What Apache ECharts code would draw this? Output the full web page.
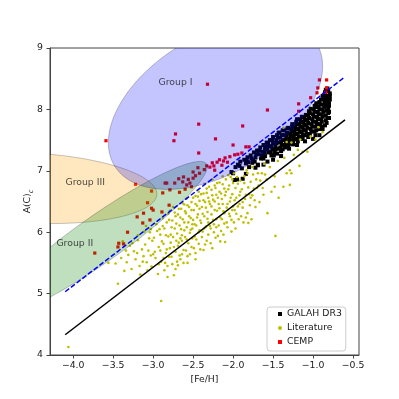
<!DOCTYPE html>
<html>
<head>
<meta charset="utf-8">
<script src="https://cdn.jsdelivr.net/npm/echarts@6/dist/echarts.min.js"></script>
<style>
  html, body { margin: 0; padding: 0; background: #fff; }
  #chart { width: 399px; height: 399px; }
</style>
</head>
<body>
<div id="chart"></div>
<script>
/* ---------------------------- data ---------------------------- */

const xTicks = [-4.0, -3.5, -3.0, -2.5, -2.0, -1.5, -1.0, -0.5];
const yTicks = [4, 5, 6, 7, 8, 9];

// GALAH DR3 stars [Fe/H, A(C)c]
const galah = [
  [-2.02, 6.98], [-1.98, 6.85], [-1.97, 7.06], [-1.94, 7.10], [-1.91, 7.15], [-1.88, 6.87], [-1.89, 7.04],
  [-1.86, 7.18], [-1.84, 7.12], [-1.82, 7.22], [-1.80, 7.06], [-1.78, 7.25], [-1.76, 7.13], [-1.75, 7.18],
  [-1.74, 7.30], [-1.72, 7.22], [-1.70, 7.33], [-1.69, 7.10], [-1.68, 7.27], [-1.66, 7.38], [-1.65, 7.20],
  [-1.63, 7.31], [-1.62, 7.42], [-1.60, 7.24], [-1.60, 7.36], [-1.58, 7.46], [-1.57, 7.15], [-1.56, 7.30],
  [-1.55, 7.40], [-1.54, 7.50], [-1.52, 7.25], [-1.51, 7.35], [-1.50, 7.45], [-1.50, 7.55], [-1.48, 7.30],
  [-1.47, 7.40], [-1.46, 7.50], [-1.45, 7.58], [-1.44, 7.36], [-1.43, 7.46], [-1.42, 7.62], [-1.41, 7.54],
  [-1.40, 7.32], [-1.39, 7.42], [-1.38, 7.50], [-1.37, 7.58], [-1.36, 7.66], [-1.35, 7.38], [-1.34, 7.46],
  [-1.33, 7.54], [-1.32, 7.62], [-1.31, 7.70], [-1.30, 7.44], [-1.29, 7.52], [-1.28, 7.60], [-1.27, 7.68],
  [-1.26, 7.76], [-1.25, 7.48], [-1.24, 7.56], [-1.23, 7.64], [-1.22, 7.72], [-1.21, 7.80], [-1.20, 7.52],
  [-1.19, 7.60], [-1.18, 7.68], [-1.17, 7.76], [-1.16, 7.84], [-1.15, 7.55], [-1.14, 7.63], [-1.13, 7.71],
  [-1.12, 7.79], [-1.11, 7.87], [-1.10, 7.58], [-1.09, 7.66], [-1.08, 7.74], [-1.07, 7.82], [-1.06, 7.90],
  [-1.05, 7.97], [-1.04, 7.60], [-1.03, 7.68], [-1.02, 7.76], [-1.01, 7.84], [-1.00, 7.92], [-0.99, 8.00],
  [-0.98, 8.06], [-0.98, 7.64], [-0.97, 7.72], [-0.96, 7.80], [-0.95, 7.88], [-0.94, 7.96], [-0.93, 8.04],
  [-0.92, 8.12], [-0.92, 7.68], [-0.91, 7.76], [-0.90, 7.84], [-0.89, 7.92], [-0.88, 8.00], [-0.87, 8.08],
  [-0.86, 8.16], [-0.86, 8.24], [-0.85, 7.74], [-0.84, 7.82], [-0.84, 7.90], [-0.83, 7.98], [-0.83, 8.06],
  [-0.82, 8.14], [-0.82, 8.22], [-0.81, 8.30], [-0.80, 7.86], [-0.80, 7.96], [-0.80, 8.06], [-0.79, 8.16],
  [-0.79, 8.26], [-0.84, 8.32], [-0.88, 8.22],
  [-1.95, 6.86], [-1.84, 6.95], [-1.72, 7.05], [-1.62, 7.10], [-1.50, 7.18], [-1.40, 7.24], [-1.30, 7.36],
  [-1.20, 7.42], [-1.10, 7.48], [-1.00, 7.52], [-0.92, 7.58], [-1.69, 7.09], [-1.81, 7.14], [-2.00, 6.96],
  [-1.47, 7.35], [-1.46, 7.45], [-1.44, 7.54], [-1.43, 7.62], [-1.41, 7.38], [-1.40, 7.47], [-1.39, 7.58],
  [-1.38, 7.66], [-1.35, 7.42], [-1.34, 7.51], [-1.33, 7.60], [-1.32, 7.69], [-1.29, 7.47], [-1.28, 7.56],
  [-1.27, 7.64], [-1.26, 7.72], [-1.24, 7.51], [-1.23, 7.60], [-1.22, 7.68], [-1.21, 7.76], [-1.20, 7.84],
  [-1.18, 7.55], [-1.17, 7.64], [-1.16, 7.72], [-1.15, 7.80], [-1.14, 7.88], [-1.13, 7.58], [-1.12, 7.67],
  [-1.11, 7.75], [-1.10, 7.83], [-1.09, 7.91], [-1.08, 7.60], [-1.07, 7.70], [-1.06, 7.78], [-1.05, 7.86],
  [-1.04, 7.94], [-1.03, 8.01], [-1.02, 7.64], [-1.01, 7.72], [-1.00, 7.80], [-0.99, 7.88], [-0.98, 7.96],
  [-0.97, 8.04], [-0.96, 8.10], [-0.96, 7.66], [-0.95, 7.76], [-0.94, 7.84], [-0.93, 7.92], [-0.92, 8.00],
  [-0.91, 8.08], [-0.90, 8.16], [-0.90, 7.72], [-0.89, 7.80], [-0.88, 7.88], [-0.87, 7.96], [-0.86, 8.04],
  [-0.85, 8.12], [-0.84, 8.20], [-0.85, 8.28], [-0.83, 7.78], [-0.82, 7.86], [-0.81, 7.94], [-0.81, 8.02],
  [-0.80, 8.10], [-0.80, 8.18], [-0.79, 8.22], [-0.82, 8.34], [-1.62, 7.20], [-1.61, 7.30], [-1.59, 7.40],
  [-1.56, 7.45], [-1.57, 7.35], [-1.53, 7.30], [-1.52, 7.40], [-1.51, 7.50], [-1.49, 7.25], [-1.67, 7.33],
  [-1.71, 7.27], [-1.77, 7.20], [-1.83, 7.17], [-1.73, 7.15], [-1.64, 7.25], [-1.92, 7.08], [-1.45, 7.28],
  [-1.38, 7.35], [-1.31, 7.40], [-1.25, 7.43], [-1.19, 7.48], [-1.13, 7.52], [-1.06, 7.55], [-0.97, 7.58],
  [-0.88, 7.68]
];

// literature stars
const literature = [
  [-4.06, 4.13],
  [-3.56, 5.50], [-3.44, 5.16], [-3.47, 5.49],
  [-3.36, 5.37], [-3.33, 5.51], [-3.31, 5.63], [-3.38, 5.85],
  [-3.27, 5.40], [-3.22, 5.56], [-3.24, 5.69], [-3.19, 5.95], [-3.29, 5.78],
  [-3.17, 5.45], [-3.12, 5.61], [-3.19, 5.87], [-3.14, 5.72], [-3.11, 6.01], [-3.16, 5.31],
  [-3.02, 5.44], [-3.08, 5.51], [-3.06, 5.70], [-3.01, 5.86], [-3.04, 6.00], [-3.09, 6.10], [-3.03, 5.62],
  [-2.97, 5.58], [-2.93, 5.76], [-2.99, 5.91], [-2.92, 6.05], [-2.96, 6.13], [-2.94, 5.32], [-2.91, 5.96], [-2.90, 4.88],
  [-2.82, 5.27], [-2.84, 5.66], [-2.87, 5.81], [-2.81, 5.93], [-2.86, 6.06], [-2.83, 6.16], [-2.88, 6.23], [-2.85, 5.50], [-2.81, 6.30],
  [-2.72, 5.40], [-2.77, 5.60], [-2.74, 5.76], [-2.71, 5.86], [-2.78, 5.96], [-2.73, 6.06], [-2.76, 6.19], [-2.72, 6.26],
  [-2.79, 6.35], [-2.70, 5.52], [-2.75, 6.41],
  [-2.66, 5.56], [-2.62, 5.71], [-2.68, 5.83], [-2.64, 5.95], [-2.61, 6.03], [-2.67, 6.11], [-2.63, 6.21], [-2.69, 6.29],
  [-2.65, 6.38], [-2.61, 6.45], [-2.66, 5.90],
  [-2.57, 5.61], [-2.52, 5.76], [-2.58, 5.88], [-2.54, 5.99], [-2.51, 6.06], [-2.56, 6.16], [-2.53, 6.23], [-2.59, 6.31],
  [-2.55, 6.41], [-2.52, 6.49], [-2.58, 6.55], [-2.51, 6.13],
  [-2.47, 5.66], [-2.43, 5.81], [-2.48, 5.93], [-2.42, 6.03], [-2.46, 6.11], [-2.41, 6.19], [-2.44, 6.29], [-2.49, 6.36],
  [-2.45, 6.43], [-2.42, 6.51], [-2.47, 6.59], [-2.43, 6.66],
  [-2.37, 5.71], [-2.33, 5.86], [-2.38, 6.01], [-2.34, 6.09], [-2.31, 6.16], [-2.36, 6.26], [-2.32, 6.33], [-2.39, 6.41],
  [-2.35, 6.49], [-2.31, 6.56], [-2.37, 6.63], [-2.33, 6.71], [-2.36, 6.79],
  [-2.26, 5.74], [-2.22, 5.91], [-2.28, 6.06], [-2.24, 6.13], [-2.21, 6.21], [-2.27, 6.29], [-2.23, 6.36], [-2.29, 6.46],
  [-2.25, 6.53], [-2.21, 6.61], [-2.27, 6.69], [-2.23, 6.76], [-2.26, 6.86],
  [-2.16, 5.85], [-2.12, 5.96], [-2.18, 6.11], [-2.14, 6.21], [-2.11, 6.31], [-2.17, 6.39], [-2.13, 6.46], [-2.19, 6.56],
  [-2.15, 6.63], [-2.11, 6.71], [-2.17, 6.81], [-2.13, 6.91],
  [-2.10, 5.84], [-2.02, 6.01], [-2.08, 6.16], [-2.04, 6.26], [-2.01, 6.36], [-2.07, 6.46], [-2.03, 6.56], [-2.09, 6.66],
  [-2.05, 6.76], [-2.01, 6.86], [-2.06, 6.93],
  [-1.97, 6.06], [-1.93, 6.21], [-1.98, 6.36], [-1.92, 6.46], [-1.96, 6.56], [-1.91, 6.66], [-1.94, 6.79], [-1.99, 6.96],
  [-1.87, 6.16], [-1.82, 6.31], [-1.88, 6.49], [-1.84, 6.61], [-1.81, 6.73], [-1.86, 6.91], [-1.83, 7.01], [-1.81, 6.15],
  [-1.77, 6.21], [-1.72, 6.41], [-1.78, 6.56], [-1.74, 6.71], [-1.71, 6.86], [-1.76, 7.06],
  [-1.67, 6.49], [-1.62, 6.61], [-1.68, 6.76], [-1.64, 6.96], [-1.61, 7.11],
  [-1.57, 6.31], [-1.52, 6.66], [-1.58, 6.86], [-1.54, 7.06],
  [-1.47, 5.94], [-1.43, 6.56], [-1.48, 6.91], [-1.44, 7.16], [-1.48, 6.74],
  [-1.37, 6.74], [-1.33, 6.96], [-1.36, 7.21], [-1.37, 7.70], [-1.33, 7.47],
  [-1.29, 7.01], [-1.24, 7.26], [-1.27, 7.46], [-1.27, 6.96], [-1.29, 6.77],
  [-1.17, 7.08], [-1.13, 7.31], [-1.16, 7.51], [-1.19, 7.34],
  [-1.07, 7.31], [-1.03, 7.56],
  [-0.97, 7.51], [-0.93, 7.71], [-0.88, 7.63],
  [-2.98, 5.68], [-2.95, 6.02], [-2.90, 5.52], [-2.89, 5.85], [-2.88, 6.10], [-2.86, 5.38], [-2.84, 5.95], [-2.83, 5.72],
  [-2.80, 6.20], [-2.80, 5.60], [-2.78, 5.83], [-2.77, 6.08], [-2.76, 5.48], [-2.75, 5.92], [-2.73, 6.32], [-2.72, 5.68],
  [-2.71, 6.14], [-2.70, 5.98], [-2.69, 5.78], [-2.68, 6.38], [-2.67, 5.62], [-2.66, 6.24], [-2.65, 6.05], [-2.64, 5.86],
  [-2.63, 6.47], [-2.62, 5.50], [-2.61, 6.16], [-2.60, 5.92], [-2.60, 6.34], [-2.59, 5.70], [-2.58, 6.08], [-2.57, 6.44],
  [-2.56, 5.82], [-2.55, 6.26], [-2.54, 5.64], [-2.53, 6.04], [-2.52, 6.36], [-2.51, 5.90], [-2.50, 6.20], [-2.50, 6.56],
  [-2.49, 5.74], [-2.48, 6.13], [-2.47, 6.46], [-2.46, 5.88], [-2.45, 6.24], [-2.44, 6.58], [-2.43, 6.00], [-2.42, 6.38],
  [-2.41, 5.72], [-2.40, 6.15], [-2.40, 6.62], [-2.39, 5.92], [-2.38, 6.30], [-2.37, 6.52], [-2.36, 6.06], [-2.35, 5.80],
  [-2.34, 6.40], [-2.33, 6.64], [-2.32, 6.22], [-2.31, 5.96], [-2.30, 6.50], [-2.30, 6.74], [-2.29, 6.10], [-2.28, 5.82],
  [-2.27, 6.42], [-2.26, 6.60], [-2.25, 6.20], [-2.24, 6.00], [-2.23, 6.50], [-2.22, 6.72], [-2.21, 6.08], [-2.20, 6.35],
  [-2.20, 6.80], [-2.19, 5.94], [-2.18, 6.46], [-2.17, 6.66], [-2.16, 6.24], [-2.15, 6.02], [-2.14, 6.54], [-2.13, 6.78],
  [-2.12, 6.34], [-2.11, 6.14], [-2.10, 6.60], [-2.09, 6.86], [-2.08, 6.40], [-2.07, 6.08], [-2.06, 6.70], [-2.05, 6.30],
  [-2.04, 6.50], [-2.03, 6.90], [-2.02, 6.20], [-2.01, 6.62], [-2.00, 6.42], [-2.00, 6.80], [-1.99, 6.16], [-1.98, 6.52],
  [-1.97, 6.72], [-1.96, 6.30], [-1.95, 6.90], [-1.94, 6.42], [-1.92, 6.60], [-1.91, 6.84], [-1.90, 6.26], [-1.89, 6.70],
  [-1.88, 6.40], [-1.86, 6.80], [-1.85, 6.54], [-1.84, 6.24], [-1.82, 6.96], [-1.80, 6.62], [-1.79, 6.44], [-1.78, 6.82],
  [-1.76, 6.60], [-1.75, 6.94], [-1.73, 6.52], [-1.70, 6.72], [-1.69, 6.96], [-1.66, 6.84], [-1.63, 6.72], [-1.60, 6.94],
  [-3.10, 5.80], [-3.07, 5.38], [-3.05, 5.90], [-3.03, 6.05], [-3.00, 5.64], [-3.20, 5.66], [-3.13, 5.52], [-3.26, 5.82],
  [-3.34, 5.70], [-3.40, 5.58], [-2.93, 5.48], [-2.91, 5.70], [-2.87, 5.58], [-2.82, 5.45], [-2.79, 5.74], [-2.74, 5.30],
  [-2.69, 5.46], [-2.64, 5.64], [-2.57, 5.50], [-2.47, 5.56]
];

// CEMP stars
const cemp = [
  [-3.59, 7.49], [-2.72, 7.60], [-2.74, 7.49], [-2.43, 7.76], [-2.43, 7.29], [-2.32, 8.41], [-1.57, 7.99],
  [-1.88, 7.73], [-2.22, 7.52], [-2.00, 7.42], [-1.18, 8.09], [-1.18, 7.97], [-1.03, 8.19], [-0.95, 8.27],
  [-0.92, 8.48], [-0.83, 8.48], [-0.83, 8.35], [-0.94, 8.35], [-0.84, 8.28], [-1.84, 7.39], [-1.80, 7.39],
  [-1.89, 7.29], [-2.26, 7.13], [-2.20, 7.14], [-2.17, 7.18], [-2.10, 7.21], [-2.04, 7.23], [-1.98, 7.26],
  [-1.94, 7.27], [-2.14, 7.09], [-2.07, 7.14], [-2.23, 7.01], [-2.33, 7.08], [-2.50, 6.98], [-2.44, 7.05],
  [-2.42, 6.96], [-2.50, 6.88], [-2.54, 6.80], [-2.58, 6.77], [-2.52, 6.74], [-2.63, 6.82], [-2.68, 6.87],
  [-2.73, 6.80], [-2.67, 6.65], [-2.79, 6.69], [-2.85, 6.80], [-2.88, 6.64], [-3.22, 6.78], [-3.02, 6.67],
  [-2.83, 6.80], [-3.00, 6.36], [-2.89, 6.33], [-3.04, 6.20], [-3.02, 6.39], [-3.07, 6.48], [-3.12, 6.31],
  [-3.13, 6.15], [-3.20, 6.25], [-3.32, 6.00], [-3.43, 5.82], [-3.44, 5.76], [-3.37, 5.81], [-3.73, 5.66],
  [-2.80, 6.44], [-2.24, 7.08], [-2.60, 6.70], [-2.47, 6.92], [-2.36, 7.02], [-2.29, 7.06], [-2.12, 7.16],
  [-2.62, 6.90], [-2.56, 6.86]
];

// two reference relations, end points
const solidLine = [[-4.1, 4.33], [-0.6, 7.83]];
const dashedLine = [[-4.1, 5.03], [-0.6, 8.53]];

// group regions: [centre Fe/H, centre A(C), width, height, angle deg] in data units
const groupEllipses = [
  [-4.54, 6.72, 3.18, 1.14, -4],   // Group III
  [-3.67, 5.89, 3.63, 0.68, 43],   // Group II
  [-2.22, 8.08, 3.28, 2.02, 47]    // Group I
];
const ellipseFills = ['rgba(255,165,0,0.25)', 'rgba(0,128,0,0.25)', 'rgba(0,0,255,0.23)'];

const groupLabels = [
  ['Group I', -2.72, 8.43],
  ['Group III', -3.85, 6.80],
  ['Group II', -3.98, 5.81]
];

/* ---------------------------------- chart ---------------------------------- */

const font = 'DejaVu Sans';
const fs = 9.3;
const axisColor = '#444';

const chart = echarts.init(document.getElementById('chart'), null, { renderer: 'canvas' });

const fmtTick = v => (v < 0 ? '\u2212' + Math.abs(v).toFixed(1) : v.toFixed(1));

const ellipseItem = (params, api) => {
  const cx = api.value(0);
  const cy = api.value(1);
  const rw = api.value(2) / 2;
  const rh = api.value(3) / 2;
  const a = (api.value(4) * Math.PI) / 180;
  const pts = [];
  for (let i = 0; i < 160; i++) {
    const t = (i / 160) * Math.PI * 2;
    const ex = rw * Math.cos(t);
    const ey = rh * Math.sin(t);
    pts.push(api.coord([cx + ex * Math.cos(a) - ey * Math.sin(a), cy + ex * Math.sin(a) + ey * Math.cos(a)]));
  }
  return {
    type: 'polygon',
    shape: { points: pts },
    style: { fill: ellipseFills[params.dataIndex], stroke: 'rgba(0,0,0,0.22)', lineWidth: 1 }
  };
};

chart.setOption({
  animation: false,
  backgroundColor: '#fff',
  textStyle: { fontFamily: font },
  grid: {
    left: 50, right: 40, top: 48, bottom: 44,
    outerBoundsMode: 'none',
    show: true, borderColor: axisColor, borderWidth: 1, backgroundColor: 'transparent'
  },
  legend: {
    data: [
      { name: 'GALAH DR3', icon: 'rect' },
      { name: 'Literature', icon: 'circle' },
      { name: 'CEMP', icon: 'rect' }
    ],
    orient: 'vertical',
    left: 267, top: 307,
    itemWidth: 4, itemHeight: 4,
    itemGap: 4, itemTextGap: 15,
    padding: [2, 4, 4, 11],
    backgroundColor: 'rgba(255,255,255,0.8)',
    borderColor: '#ccc', borderWidth: 1, borderRadius: 3,
    selectedMode: false,
    textStyle: { fontFamily: font, fontSize: fs, color: '#1a1a1a', lineHeight: 10 }
  },
  xAxis: {
    type: 'value',
    min: -4.29, max: -0.425,
    name: '[Fe/H]', nameLocation: 'middle', nameGap: 16,
    nameTextStyle: { fontFamily: font, fontSize: fs, color: '#1a1a1a' },
    axisLine: { onZero: false, lineStyle: { color: axisColor } },
    axisTick: { show: true, length: 3.5, customValues: xTicks, lineStyle: { color: axisColor } },
    axisLabel: { customValues: xTicks, formatter: fmtTick, margin: 6.5, fontFamily: font, fontSize: fs, color: '#1a1a1a' },
    splitLine: { show: false }
  },
  yAxis: {
    type: 'value',
    min: 4, max: 9, interval: 1,
    name: '{n|A(C)}{s|c}', nameLocation: 'middle', nameGap: 15, nameRotate: 90,
    nameMoveOverlap: false,
    nameTextStyle: {
      fontFamily: font, color: '#1a1a1a',
      rich: {
        n: { fontFamily: font, fontSize: fs, color: '#1a1a1a' },
        s: { fontFamily: font, fontSize: 6.6, fontStyle: 'italic', color: '#1a1a1a', verticalAlign: 'bottom', padding: [8, 0, 0, 0] }
      }
    },
    axisLine: { onZero: false, lineStyle: { color: axisColor } },
    axisTick: { show: true, length: 3.5, lineStyle: { color: axisColor } },
    axisLabel: { customValues: yTicks, formatter: v => String(v), margin: 7, fontFamily: font, fontSize: fs, color: '#1a1a1a' },
    splitLine: { show: false }
  },
  series: [
    {
      name: 'GALAH DR3', type: 'scatter', data: galah, z: 2,
      symbol: 'rect', symbolSize: 4,
      itemStyle: { color: '#000', opacity: 1 }
    },
    {
      name: 'Literature', type: 'scatter', data: literature, z: 2,
      symbol: 'circle', symbolSize: 2.6,
      itemStyle: { color: '#bfbf00', opacity: 1 }
    },
    {
      name: 'CEMP', type: 'scatter', data: cemp, z: 2,
      symbol: 'rect', symbolSize: 3.2,
      itemStyle: { color: '#ff0000', opacity: 1 }
    },
    {
      type: 'custom', data: groupEllipses, z: 3, clip: true,
      encode: { x: 0, y: 1 },
      renderItem: ellipseItem,
      silent: true
    },
    {
      type: 'line', data: solidLine, z: 4, symbol: 'none',
      lineStyle: { color: '#000', width: 1.5 }
    },
    {
      type: 'line', data: dashedLine, z: 4, symbol: 'none',
      lineStyle: { color: '#0000ff', width: 1.5, type: [5, 2.2] }
    },
    {
      type: 'scatter', z: 5, symbolSize: 0,
      data: groupLabels.map(g => ({ name: g[0], value: [g[1], g[2]] })),
      label: {
        show: true, position: 'inside', formatter: p => p.name,
        fontFamily: font, fontSize: fs, color: '#1a1a1a'
      }
    }
  ]
});
</script>
</body>
</html>
